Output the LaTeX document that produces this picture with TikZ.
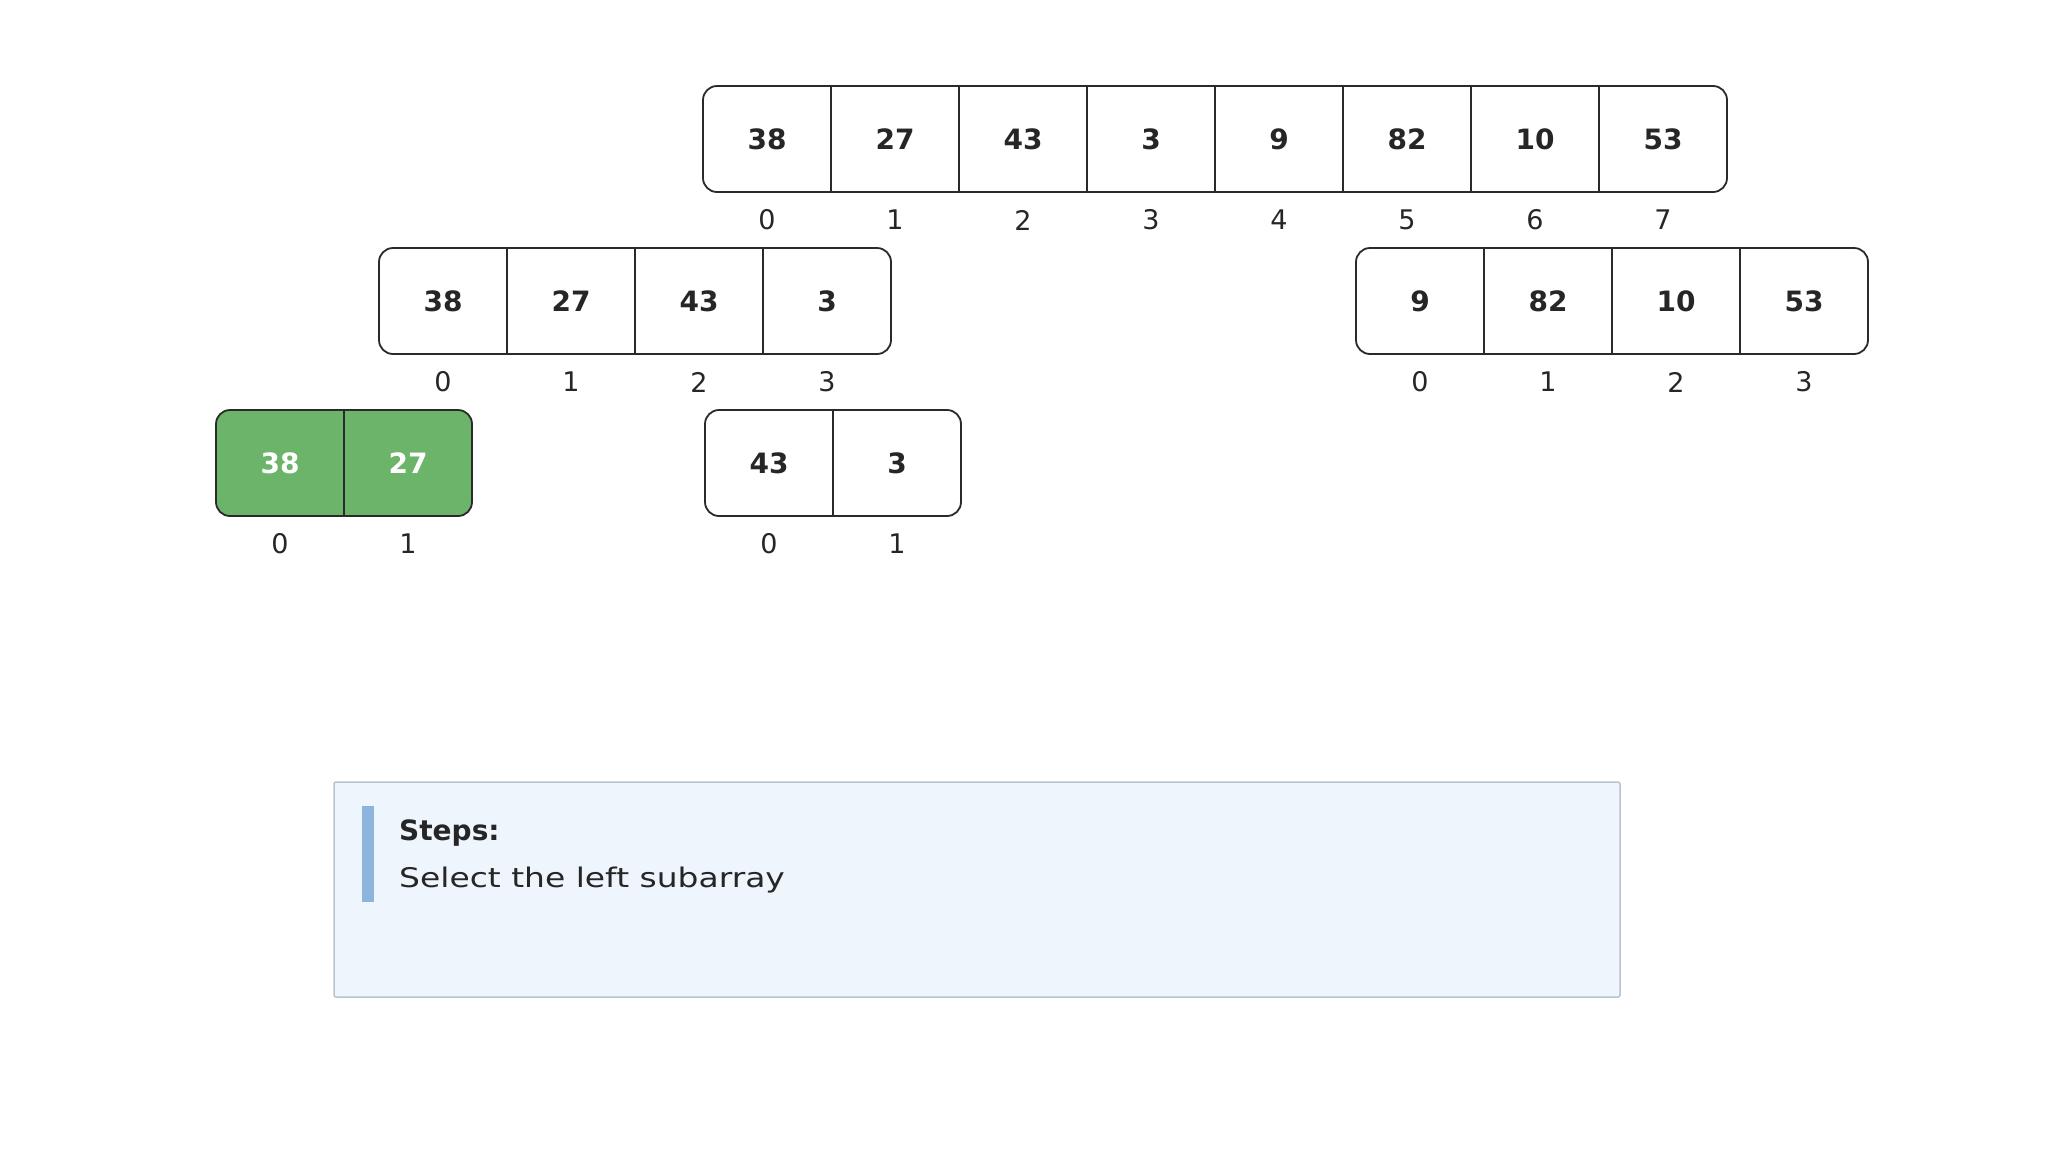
\documentclass[tikz,border=0pt]{standalone}
\usepackage{fontspec}
\setmainfont{DejaVu Sans}
\newfontfamily\widefont[FakeStretch=1.22]{DejaVu Sans}
\definecolor{greenfill}{HTML}{6BB46A}
\definecolor{stepsfill}{HTML}{EEF5FC}
\definecolor{stepsline}{HTML}{B9C3CC}
\definecolor{accent}{HTML}{8DB4DC}
\definecolor{framec}{HTML}{2A2A2A}
\begin{document}
\begin{tikzpicture}[x=1pt,y=-1pt,
  cell/.style={minimum width=128pt, minimum height=106pt, inner sep=0pt, font=\fontsize{28}{30}\selectfont\bfseries, text=black!85},
  gcell/.style={cell, text=white},
  idx/.style={inner sep=0pt, font=\fontsize{27}{30}\selectfont, text=black!85},
  frame/.style={draw=framec, line width=1.8pt, rounded corners=14pt, fill=white},
  gframe/.style={frame, fill=greenfill},
  divider/.style={draw=framec, line width=1.8pt},
  stepsbox/.style={draw=stepsline, line width=1.5pt, fill=stepsfill, rounded corners=2pt},
  stepstxt/.style={inner sep=0pt, anchor=base west, font=\fontsize{27}{30}\selectfont, text=black!85}
]
\useasboundingbox (0,0) rectangle (2048,1152);

% top array
\draw[frame] (703,86) rectangle (1727,192);
\foreach \v [count=\i from 0] in {38,27,43,3,9,82,10,53} {
  \node[cell] (t\i) at ({767+128*\i},139) {\v};
  \node[idx] (ti\i) at ({767+128*\i},220) {\i};
}
\foreach \i in {1,...,7} \draw[divider] (t\i.north west) -- (t\i.south west);

% row 2 left
\draw[frame] (379,248) rectangle (891,354);
\foreach \v [count=\i from 0] in {38,27,43,3} {
  \node[cell] (l\i) at ({443+128*\i},301) {\v};
  \node[idx] (li\i) at ({443+128*\i},382) {\i};
}
\foreach \i in {1,...,3} \draw[divider] (l\i.north west) -- (l\i.south west);

% row 2 right
\draw[frame] (1356,248) rectangle (1868,354);
\foreach \v [count=\i from 0] in {9,82,10,53} {
  \node[cell] (r\i) at ({1420+128*\i},301) {\v};
  \node[idx] (ri\i) at ({1420+128*\i},382) {\i};
}
\foreach \i in {1,...,3} \draw[divider] (r\i.north west) -- (r\i.south west);

% row 3 green
\draw[gframe] (216,410) rectangle (472,516);
\foreach \v [count=\i from 0] in {38,27} {
  \node[gcell] (g\i) at ({280+128*\i},463) {\v};
  \node[idx] (gi\i) at ({280+128*\i},544) {\i};
}
\draw[divider] (g1.north west) -- (g1.south west);

% row 3 second
\draw[frame] (705,410) rectangle (961,516);
\foreach \v [count=\i from 0] in {43,3} {
  \node[cell] (s\i) at ({769+128*\i},463) {\v};
  \node[idx] (si\i) at ({769+128*\i},544) {\i};
}
\draw[divider] (s1.north west) -- (s1.south west);

% steps box
\draw[stepsbox] (334,782) rectangle (1620,997);
\fill[accent] (362,806) rectangle (374,902);
\node[stepstxt, font=\fontsize{28}{30}\selectfont\bfseries] (steps) at (399,840) {Steps:};
\node[stepstxt, font=\fontsize{27}{30}\selectfont\widefont] (stepdesc) at (399,887) {Select the left subarray};
\end{tikzpicture}
\end{document}
